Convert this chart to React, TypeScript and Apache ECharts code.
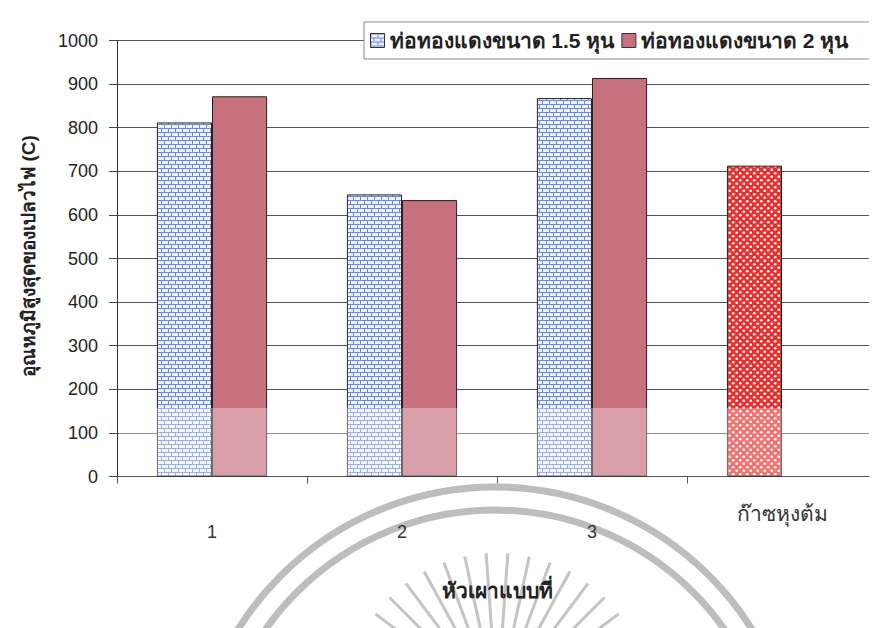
import React, { useEffect, useRef } from "react";
import * as echarts from "echarts";

const categories = ["1", "2", "3", "ก๊าซหุงต้ม"];
const seriesNames = ["ท่อทองแดงขนาด 1.5 หุน", "ท่อทองแดงขนาด 2 หุน"];
const pipe15 = [812, 647, 868, 713];
const pipe20 = [872, 634, 914, null];
const yTicks = { min: 0, max: 1000, interval: 100 };
const xTitle = "หัวเผาแบบที่";
const yTitle = "อุณหภูมิสูงสุดของเปลวไฟ (C)";

function brickPattern() {
  const c = document.createElement("canvas");
  c.width = 14;
  c.height = 8;
  const g = c.getContext("2d")!;
  g.fillStyle = "#eef2ff";
  g.fillRect(0, 0, 14, 8);
  g.fillStyle = "#6a8ae2";
  g.fillRect(0, 0, 14, 1);
  g.fillRect(0, 4, 14, 1);
  g.fillRect(0, 0, 1, 4);
  g.fillRect(7, 0, 1, 4);
  g.fillRect(3, 4, 1, 4);
  g.fillRect(10, 4, 1, 4);
  return c;
}

function dotPattern() {
  const c = document.createElement("canvas");
  c.width = 7;
  c.height = 7;
  const g = c.getContext("2d")!;
  g.fillStyle = "#e8312e";
  g.fillRect(0, 0, 7, 7);
  g.fillStyle = "#ffffff";
  g.beginPath();
  g.arc(1.75, 1.75, 1.35, 0, Math.PI * 2);
  g.fill();
  g.beginPath();
  g.arc(5.25, 5.25, 1.35, 0, Math.PI * 2);
  g.fill();
  return c;
}

export default function App() {
  const ref = useRef<HTMLDivElement>(null);
  useEffect(() => {
    if (!ref.current) return;
    const chart = echarts.init(ref.current, null, { renderer: "svg" });
    const brick = { image: brickPattern(), repeat: "repeat" };
    const dots = { image: dotPattern(), repeat: "repeat" };
    const font = "'Liberation Sans', Arial, 'Noto Sans', sans-serif";

    const rays: any[] = [];
    const cx = 497, cy = 705;
    for (let i = 0; i < 22; i++) {
      const a = Math.PI + (Math.PI * (i + 0.5)) / 22;
      rays.push({
        type: "line",
        silent: true,
        z: -1,
        shape: {
          x1: cx + Math.cos(a) * 70,
          y1: cy + Math.sin(a) * 70,
          x2: cx + Math.cos(a) * 152,
          y2: cy + Math.sin(a) * 152,
        },
        style: { stroke: "#c4c4c4", lineWidth: 3 },
      });
    }

    chart.setOption({
      animation: false,
      backgroundColor: "#ffffff",
      textStyle: { fontFamily: font },
      grid: { left: 117, top: 40.5, width: 763, height: 436, containLabel: false },
      legend: {
        left: 364,
        top: 22,
        itemWidth: 14,
        itemHeight: 14,
        itemGap: 7,
        padding: [8, 26, 8, 6],
        backgroundColor: "#ffffff",
        borderColor: "#8a8a8a",
        borderWidth: 1,
        icon: "rect",
        textStyle: { fontSize: 21, fontWeight: "bold", color: "#222", fontFamily: font },
        data: seriesNames,
        itemStyle: { borderColor: "#333", borderWidth: 1 },
      },
      xAxis: {
        type: "category",
        data: categories,
        axisLine: { lineStyle: { color: "#555", width: 1 } },
        axisTick: { show: true, length: 7, lineStyle: { color: "#555" } },
        axisLabel: {
          margin: 26,
          color: "#333",
          formatter: (v: string) => (v.length > 2 ? "{g|" + v + "}" : "{n|" + v + "}"),
          rich: {
            g: { fontSize: 21, color: "#333", fontFamily: font },
            n: { fontSize: 18, color: "#333", fontFamily: font, padding: [20, 0, 0, 0] },
          },
        },
      },
      yAxis: {
        type: "value",
        min: yTicks.min,
        max: yTicks.max,
        interval: yTicks.interval,
        axisLine: { show: true, lineStyle: { color: "#333", width: 1 } },
        axisTick: { show: true, length: 8, lineStyle: { color: "#444" } },
        axisLabel: { fontSize: 18, color: "#222", margin: 19, formatter: (v: number) => String(v) },
        splitLine: { lineStyle: { color: "#555", width: 1 } },
      },
      series: [
        {
          name: seriesNames[0],
          type: "bar",
          data: pipe15.map((v, i) =>
            i === 3 ? { value: v, itemStyle: { color: dots } } : v
          ),
          barGap: "0%",
          barCategoryGap: "42%",
          itemStyle: { color: brick, borderColor: "#222", borderWidth: 1 },
        },
        {
          name: seriesNames[1],
          type: "bar",
          data: pipe20,
          itemStyle: { color: "#c7717f", borderColor: "#222", borderWidth: 1 },
        },
      ],
      graphic: [
        {
          type: "arc",
          silent: true,
          z: -1,
          shape: { cx: 495, cy: 790, r: 303, startAngle: Math.PI, endAngle: Math.PI * 2 },
          style: { stroke: "#bdbdbd", lineWidth: 7, fill: "none" },
        },
        {
          type: "arc",
          silent: true,
          z: -1,
          shape: { cx: 495, cy: 790, r: 280, startAngle: Math.PI, endAngle: Math.PI * 2 },
          style: { stroke: "#bdbdbd", lineWidth: 7, fill: "none" },
        },
        ...rays,
        {
          type: "rect",
          silent: true,
          z: 100,
          shape: { x: 119, y: 408, width: 760, height: 68 },
          style: { fill: "rgba(255,255,255,0.33)" },
        },
        {
          type: "text",
          x: 497,
          y: 590,
          z: 100,
          style: {
            text: xTitle,
            align: "center",
            verticalAlign: "middle",
            fontSize: 21,
            fontWeight: "bold",
            fontFamily: font,
            fill: "#222",
          },
        },
        {
          type: "text",
          x: 28,
          y: 256,
          rotation: Math.PI / 2,
          z: 100,
          style: {
            text: yTitle,
            align: "center",
            verticalAlign: "middle",
            fontSize: 19,
            fontWeight: "bold",
            fontFamily: font,
            fill: "#222",
          },
        },
      ],
    });
    return () => chart.dispose();
  }, []);
  return <div ref={ref} style={{ width: 877, height: 628, marginLeft: -8, marginTop: -8 }} />;
}
